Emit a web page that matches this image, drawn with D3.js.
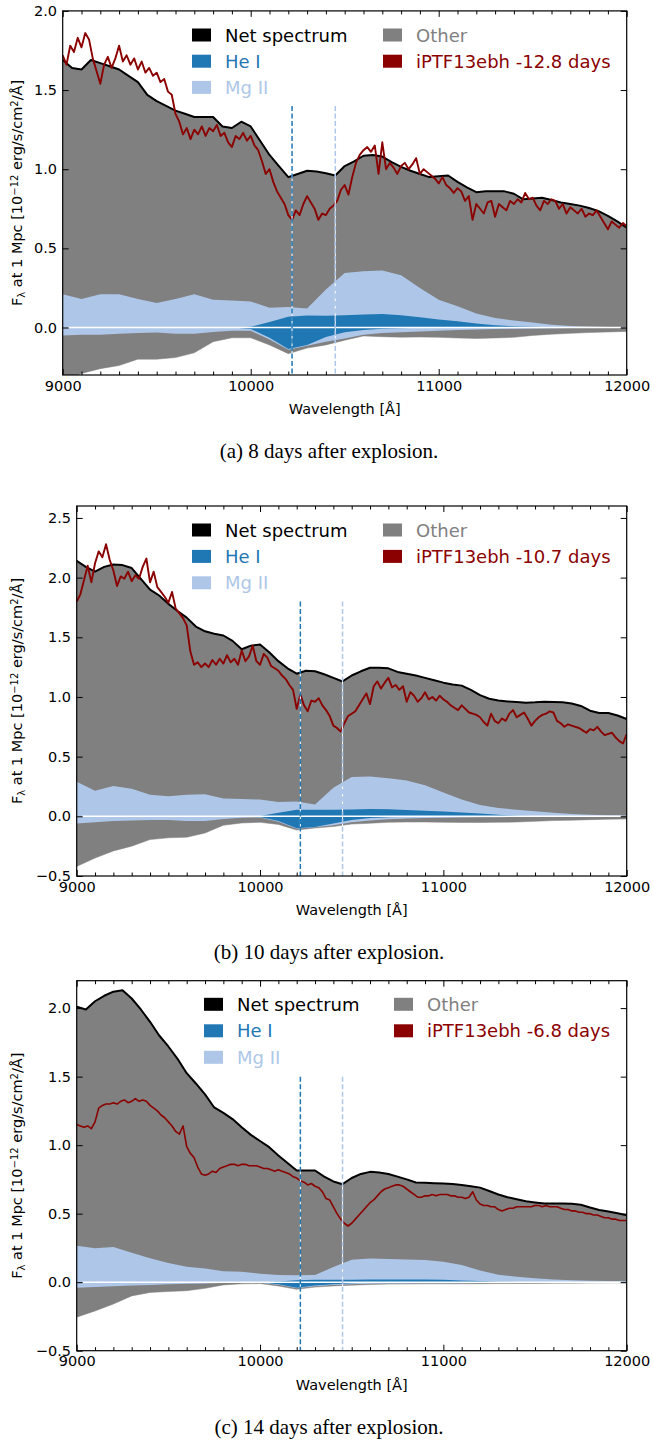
<!DOCTYPE html>
<html><head><meta charset="utf-8">
<script src="https://cdn.jsdelivr.net/npm/d3@7"></script>
<style>body{margin:0;background:#fff;} svg{display:block;}</style>
</head><body><svg id="c" width="652" height="1441"></svg>
<script>
// ---------- DATA ----------
const waveMin = 9000, waveMax = 12000;
const netStep = 50, modelStep = 100, obsStep = 20;
const xMajorTicks = [9000, 10000, 11000, 12000];
const heLine = 10220, mgLine = 10450;
const zeroLineExtent = [9030, 11970];

const legendLabels = ["Net spectrum", "He I", "Mg II", "Other"];
const obsLabels = ["iPTF13ebh -12.8 days", "iPTF13ebh -10.7 days", "iPTF13ebh -6.8 days"];
const captions = ["(a) 8 days after explosion.", "(b) 10 days after explosion.", "(c) 14 days after explosion."];
const yDomains = [[-0.3, 2.0], [-0.5, 2.6], [-0.5, 2.2]];
const yTickValues = [[0, 0.5, 1.0, 1.5, 2.0], [-0.5, 0, 0.5, 1.0, 1.5, 2.0, 2.5], [-0.5, 0, 0.5, 1.0, 1.5, 2.0]];
const lineTops = [1.4, 1.8, 1.5];

// Panel (a)
const p1Net = [1.69,1.64,1.63,1.69,1.67,1.65,1.63,1.59,1.55,1.47,
 1.43,1.40,1.37,1.35,1.33,1.33,1.33,1.27,1.26,1.30,
 1.27,1.18,1.09,1.02,0.95,0.97,0.99,0.985,0.975,0.96,
 1.02,1.05,1.085,1.09,1.08,1.045,1.015,0.99,0.97,0.95,
 0.955,0.96,0.92,0.885,0.855,0.86,0.86,0.86,0.845,0.81,
 0.815,0.82,0.805,0.79,0.78,0.77,0.755,0.735,0.705,0.67,
 0.63];
const p1MgTop = [0.21,0.18,0.21,0.21,0.18,0.155,0.18,0.21,0.175,0.17,
 0.165,0.125,0.13,0.12,0.24,0.345,0.355,0.36,0.33,0.25,
 0.175,0.135,0.088,0.06,0.045,0.032,0.018,0.01,0.006,0.004,0.003];
const p1HeTop = [0,0,0,0,0,0,0,0,0,0,
 0.005,0.035,0.068,0.076,0.075,0.078,0.082,0.085,0.077,0.065,
 0.05,0.04,0.025,0.015,0.008,0.005,0.002,0,0,0,0];
const p1HeBot = [0,0,0,0,0,0,0,0,0,0,
 -0.01,-0.065,-0.135,-0.11,-0.06,-0.03,-0.015,-0.008,-0.004,-0.002,
 0,0,0,0,0,0,0,0,0,0,0];
const p1MgBot = [-0.05,-0.045,-0.045,-0.04,-0.035,-0.032,-0.04,-0.04,-0.028,-0.02,
 -0.02,-0.075,-0.14,-0.115,-0.09,-0.07,-0.045,-0.035,-0.03,-0.025,
 -0.02,-0.015,-0.012,-0.01,-0.008,-0.006,-0.004,-0.003,-0.002,-0.001,0];
const p1OtherBot = [-0.34,-0.29,-0.26,-0.24,-0.2,-0.2,-0.19,-0.16,-0.09,-0.065,
 -0.065,-0.11,-0.165,-0.13,-0.11,-0.08,-0.053,-0.058,-0.061,-0.06,
 -0.062,-0.066,-0.069,-0.066,-0.062,-0.05,-0.042,-0.037,-0.032,-0.028,-0.025];
const p1Obs = [1.72,1.66,1.78,1.74,1.83,1.77,1.86,1.82,1.70,1.62,
 1.54,1.66,1.71,1.64,1.70,1.78,1.68,1.72,1.66,1.70,
 1.63,1.68,1.61,1.64,1.59,1.61,1.55,1.57,1.49,1.47,
 1.35,1.30,1.22,1.26,1.19,1.25,1.22,1.27,1.21,1.26,
 1.24,1.28,1.21,1.23,1.17,1.14,1.21,1.19,1.23,1.18,
 1.21,1.15,1.12,1.05,0.97,1.00,0.92,0.86,0.82,0.78,
 0.71,0.68,0.74,0.71,0.78,0.83,0.79,0.75,0.68,0.72,
 0.71,0.75,0.77,0.80,0.87,0.90,0.84,0.95,1.04,1.09,
 1.12,1.14,1.11,1.15,0.97,1.17,1.00,1.04,1.01,0.97,
 1.02,1.04,1.00,1.03,1.07,0.97,1.00,0.98,0.96,0.94,
 0.91,0.95,0.90,0.88,0.85,0.88,0.86,0.80,0.83,0.68,
 0.78,0.75,0.72,0.79,0.80,0.70,0.78,0.76,0.74,0.80,
 0.78,0.81,0.79,0.85,0.81,0.82,0.77,0.74,0.80,0.78,
 0.81,0.80,0.75,0.78,0.72,0.76,0.74,0.72,0.75,0.70,
 0.72,0.71,0.74,0.70,0.66,0.62,0.67,0.65,0.63,0.66,
 0.64];

// Panel (b)
const p2Net = [2.14,2.09,2.05,2.09,2.11,2.105,2.08,1.99,1.90,1.85,
 1.78,1.72,1.665,1.59,1.55,1.53,1.515,1.47,1.40,1.43,
 1.44,1.375,1.30,1.24,1.195,1.22,1.215,1.19,1.16,1.13,
 1.18,1.215,1.245,1.245,1.24,1.21,1.195,1.18,1.16,1.14,
 1.12,1.105,1.095,1.06,1.015,0.985,0.97,0.963,0.958,0.952,
 0.955,0.96,0.957,0.955,0.945,0.925,0.885,0.865,0.865,0.845,
 0.815];
const p2MgTop = [0.29,0.215,0.255,0.23,0.18,0.168,0.18,0.185,0.15,0.145,
 0.14,0.12,0.125,0.10,0.24,0.33,0.333,0.318,0.30,0.26,
 0.2,0.14,0.095,0.07,0.055,0.042,0.03,0.02,0.014,0.009,0.006];
const p2HeTop = [0,0,0,0,0,0,0,0,0,0,
 0.003,0.03,0.055,0.056,0.056,0.058,0.062,0.06,0.053,0.047,
 0.04,0.032,0.024,0.013,0.005,0.002,0,0,0,0,0];
const p2HeBot = [0,0,0,0,0,0,0,0,0,0,
 -0.005,-0.04,-0.10,-0.09,-0.06,-0.03,-0.015,-0.008,-0.004,-0.002,
 0,0,0,0,0,0,0,0,0,0,0];
const p2MgBot = [-0.06,-0.05,-0.04,-0.035,-0.03,-0.03,-0.04,-0.04,-0.022,-0.012,
 -0.01,-0.045,-0.105,-0.092,-0.075,-0.05,-0.035,-0.025,-0.018,-0.015,
 -0.012,-0.01,-0.008,-0.007,-0.006,-0.005,-0.004,-0.003,-0.002,-0.002,-0.001];
const p2OtherBot = [-0.42,-0.35,-0.29,-0.25,-0.195,-0.18,-0.175,-0.14,-0.075,-0.056,
 -0.05,-0.068,-0.115,-0.098,-0.085,-0.065,-0.058,-0.05,-0.048,-0.048,
 -0.05,-0.052,-0.052,-0.05,-0.048,-0.042,-0.036,-0.032,-0.028,-0.025,-0.022];
const p2Obs = [1.80,1.86,1.98,2.10,1.96,2.12,2.22,2.17,2.28,2.15,
 2.06,1.93,2.01,1.99,2.05,1.97,2.02,1.99,2.09,2.16,
 1.96,2.05,1.92,1.88,1.84,1.79,1.88,1.74,1.70,1.66,
 1.60,1.38,1.27,1.29,1.25,1.28,1.25,1.31,1.27,1.32,
 1.28,1.35,1.29,1.32,1.27,1.39,1.30,1.34,1.43,1.30,
 1.27,1.36,1.33,1.26,1.24,1.22,1.18,1.15,1.10,1.06,
 0.90,1.02,0.93,0.88,0.97,0.96,0.99,0.93,0.89,0.84,
 0.76,0.74,0.71,0.78,0.84,0.86,0.88,0.93,0.98,1.03,
 0.94,1.09,1.13,1.07,1.12,1.16,1.08,1.10,1.06,1.09,
 0.96,1.04,1.01,0.96,0.99,1.04,0.98,1.00,0.97,1.01,
 0.98,0.96,0.93,0.91,0.89,0.93,0.90,0.87,0.86,0.85,
 0.83,0.79,0.76,0.86,0.80,0.78,0.82,0.80,0.86,0.89,
 0.83,0.85,0.87,0.82,0.76,0.80,0.83,0.85,0.86,0.88,
 0.87,0.80,0.78,0.75,0.77,0.76,0.75,0.74,0.72,0.70,
 0.73,0.72,0.75,0.71,0.68,0.69,0.70,0.66,0.63,0.61,
 0.69];

// Panel (c)
const p3Net = [2.01,1.99,2.05,2.09,2.12,2.13,2.07,1.99,1.90,1.80,
 1.72,1.63,1.525,1.45,1.37,1.275,1.235,1.19,1.13,1.075,
 1.03,0.985,0.925,0.87,0.815,0.815,0.815,0.77,0.735,0.715,
 0.76,0.79,0.805,0.80,0.79,0.77,0.75,0.727,0.725,0.722,
 0.72,0.716,0.709,0.70,0.69,0.665,0.64,0.62,0.605,0.59,
 0.582,0.575,0.574,0.574,0.572,0.565,0.545,0.527,0.515,0.503,
 0.489];
const p3MgTop = [0.265,0.247,0.256,0.215,0.175,0.14,0.112,0.1,0.08,0.076,
 0.062,0.053,0.051,0.052,0.11,0.163,0.172,0.17,0.165,0.162,
 0.15,0.125,0.085,0.055,0.04,0.028,0.02,0.015,0.01,0.008,0.006];
const p3HeTop = [0,0,0,0,0,0,0,0,0,0,
 0,0.005,0.015,0.017,0.018,0.018,0.02,0.02,0.02,0.02,
 0.018,0.013,0.008,0.004,0.002,0,0,0,0,0,0];
const p3HeBot = [0,0,0,0,0,0,0,0,0,0,
 0,-0.015,-0.04,-0.025,-0.015,-0.008,-0.004,-0.002,0,0,
 0,0,0,0,0,0,0,0,0,0,0];
const p3MgBot = [-0.04,-0.035,-0.03,-0.025,-0.02,-0.015,-0.012,-0.01,-0.006,-0.004,
 -0.004,-0.018,-0.045,-0.03,-0.02,-0.015,-0.012,-0.01,-0.009,-0.008,
 -0.008,-0.007,-0.006,-0.005,-0.005,-0.004,-0.004,-0.003,-0.003,-0.002,-0.002];
const p3OtherBot = [-0.255,-0.21,-0.16,-0.1,-0.075,-0.068,-0.062,-0.045,-0.02,-0.012,
 -0.01,-0.028,-0.052,-0.036,-0.027,-0.022,-0.017,-0.014,-0.013,-0.012,
 -0.012,-0.012,-0.011,-0.01,-0.01,-0.009,-0.008,-0.007,-0.006,-0.005,-0.004];
const p3Obs = [1.15,1.14,1.13,1.14,1.12,1.17,1.27,1.29,1.30,1.30,
 1.31,1.30,1.32,1.33,1.31,1.32,1.34,1.32,1.33,1.32,
 1.29,1.27,1.25,1.22,1.20,1.17,1.14,1.10,1.08,1.14,
 0.99,0.94,0.91,0.84,0.79,0.78,0.79,0.81,0.80,0.83,
 0.84,0.85,0.86,0.86,0.85,0.86,0.86,0.85,0.85,0.85,
 0.84,0.83,0.83,0.82,0.81,0.82,0.81,0.80,0.79,0.77,
 0.76,0.74,0.73,0.71,0.72,0.70,0.69,0.66,0.61,0.60,
 0.55,0.50,0.46,0.43,0.41,0.43,0.46,0.49,0.52,0.55,
 0.58,0.60,0.63,0.66,0.68,0.69,0.70,0.71,0.71,0.70,
 0.68,0.66,0.64,0.62,0.62,0.63,0.63,0.64,0.63,0.64,
 0.64,0.64,0.63,0.63,0.62,0.62,0.61,0.62,0.66,0.60,
 0.57,0.56,0.56,0.55,0.55,0.53,0.52,0.53,0.54,0.54,
 0.55,0.55,0.55,0.55,0.55,0.56,0.56,0.55,0.56,0.55,
 0.55,0.55,0.54,0.53,0.53,0.52,0.52,0.51,0.51,0.50,
 0.50,0.49,0.49,0.48,0.47,0.47,0.46,0.46,0.45,0.45,
 0.45];

// ---------- STYLE / LAYOUT ----------
const C = {net:"#000000", he:"#1f77b4", mg:"#aec7e8", other:"#808080", obs:"#8b0000"};
const FONT = "DejaVu Sans, Verdana, sans-serif";
const layouts = [
  {box:{l:62.7, r:626.7, t:10.9, b:375}, leg:{y:35, x1:192, x2:383, dy:26.2}, obsW:1.9},
  {box:{l:76.7, r:626.7, t:506, b:876}, leg:{y:530, x1:192, x2:383, dy:26.4}, obsW:1.9},
  {box:{l:76.7, r:626.7, t:980.7, b:1350.7}, leg:{y:1004.3, x1:204, x2:394, dy:26.5}, obsW:1.6}
];
const series = [
  {net:p1Net, mgTop:p1MgTop, heTop:p1HeTop, heBot:p1HeBot, mgBot:p1MgBot, otherBot:p1OtherBot, obs:p1Obs},
  {net:p2Net, mgTop:p2MgTop, heTop:p2HeTop, heBot:p2HeBot, mgBot:p2MgBot, otherBot:p2OtherBot, obs:p2Obs},
  {net:p3Net, mgTop:p3MgTop, heTop:p3HeTop, heBot:p3HeBot, mgBot:p3MgBot, otherBot:p3OtherBot, obs:p3Obs}
];

const svg = d3.select("#c");

series.forEach((s, k) => {
  const {box, leg, obsW} = layouts[k];
  const x = d3.scaleLinear().domain([waveMin, waveMax]).range([box.l, box.r]);
  const y = d3.scaleLinear().domain(yDomains[k]).range([box.b, box.t]);
  const g = svg.append("g");
  const clipId = "clip" + k;
  svg.append("clipPath").attr("id", clipId).append("rect")
    .attr("x", box.l).attr("y", box.t).attr("width", box.r - box.l).attr("height", box.b - box.t);
  const plot = g.append("g").attr("clip-path", `url(#${clipId})`);

  const netPts = s.net.map((v, i) => ({w: waveMin + i * netStep, v}));
  const botPts = s.otherBot.map((v, i) => ({w: waveMin + i * modelStep, v}));
  const comp = s.mgTop.map((v, i) => ({w: waveMin + i * modelStep, mgTop: v, mgBot: s.mgBot[i], heTop: s.heTop[i], heBot: s.heBot[i]}));
  const obsPts = s.obs.map((v, i) => ({w: waveMin + i * obsStep, v}));

  const line = d3.line().x(d => x(d.w)).y(d => y(d.v));
  plot.append("path").attr("d", line(netPts.concat(botPts.slice().reverse())) + "Z")
    .attr("fill", C.other).attr("stroke", C.other).attr("stroke-width", 0.5);
  plot.append("path").attr("d", d3.area().x(d => x(d.w)).y0(d => y(d.mgBot)).y1(d => y(d.mgTop))(comp))
    .attr("fill", C.mg);
  plot.append("path").attr("d", d3.area().x(d => x(d.w)).y0(d => y(d.heBot)).y1(d => y(d.heTop))(comp))
    .attr("fill", C.he);
  plot.append("line").attr("x1", x(zeroLineExtent[0])).attr("x2", x(zeroLineExtent[1]))
    .attr("y1", y(0)).attr("y2", y(0)).attr("stroke", "#ffffff").attr("stroke-width", 1.6);
  plot.append("path").attr("d", line(netPts)).attr("fill", "none")
    .attr("stroke", C.net).attr("stroke-width", 2).attr("stroke-linejoin", "round");
  plot.append("path").attr("d", line(obsPts)).attr("fill", "none")
    .attr("stroke", C.obs).attr("stroke-width", obsW).attr("stroke-linejoin", "round");
  [[heLine, C.he], [mgLine, C.mg]].forEach(([w, col]) => {
    plot.append("line").attr("x1", x(w)).attr("x2", x(w)).attr("y1", y(lineTops[k])).attr("y2", box.b)
      .attr("stroke", "#ffffff").attr("stroke-width", 1);
    plot.append("line").attr("x1", x(w)).attr("x2", x(w)).attr("y1", y(lineTops[k])).attr("y2", box.b)
      .attr("stroke", col).attr("stroke-width", 1.5).attr("stroke-dasharray", "5,2.5");
  });

  const minor = d3.range(waveMin + 100, waveMax, 100).filter(v => !xMajorTicks.includes(v));
  const styleAxis = sel => {
    sel.select(".domain").remove();
    sel.selectAll(".tick line").attr("stroke", "#000").attr("stroke-width", 1);
    sel.selectAll(".tick text").attr("fill", "#000").style("font-family", FONT).style("font-size", "14.5px");
  };
  g.append("g").attr("transform", `translate(0,${box.b})`)
    .call(d3.axisBottom(x).tickValues(xMajorTicks).tickSize(-6).tickPadding(5.5).tickFormat(d3.format("d"))).call(styleAxis);
  g.append("g").attr("transform", `translate(0,${box.b})`)
    .call(d3.axisBottom(x).tickValues(minor).tickSize(-3.5).tickFormat("")).call(styleAxis);
  g.append("g").attr("transform", `translate(0,${box.t})`)
    .call(d3.axisTop(x).tickValues(xMajorTicks).tickSize(-6).tickFormat("")).call(styleAxis);
  g.append("g").attr("transform", `translate(0,${box.t})`)
    .call(d3.axisTop(x).tickValues(minor).tickSize(-3.5).tickFormat("")).call(styleAxis);
  g.append("g").attr("transform", `translate(${box.l},0)`)
    .call(d3.axisLeft(y).tickValues(yTickValues[k]).tickSize(-6).tickPadding(5.7).tickFormat(d3.format(".1f"))).call(styleAxis);
  g.append("g").attr("transform", `translate(${box.r},0)`)
    .call(d3.axisRight(y).tickValues(yTickValues[k]).tickSize(-6).tickFormat("")).call(styleAxis);

  g.append("rect").attr("x", box.l).attr("y", box.t).attr("width", box.r - box.l).attr("height", box.b - box.t)
    .attr("fill", "none").attr("stroke", "#000").attr("stroke-width", 1.2);

  g.append("text").attr("x", (box.l + box.r) / 2).attr("y", box.b + 39).attr("text-anchor", "middle")
    .style("font-family", FONT).style("font-size", "14.5px").text("Wavelength [Å]");
  const yl = g.append("text").attr("transform", `translate(22,${(box.t + box.b) / 2}) rotate(-90)`)
    .attr("text-anchor", "middle").style("font-family", FONT).style("font-size", "14.5px");
  yl.append("tspan").text("F");
  yl.append("tspan").attr("baseline-shift", "-25%").style("font-size", "10px").text("λ");
  yl.append("tspan").text(" at 1 Mpc [10");
  yl.append("tspan").attr("baseline-shift", "40%").style("font-size", "10px").text("−12");
  yl.append("tspan").text(" erg/s/cm");
  yl.append("tspan").attr("baseline-shift", "40%").style("font-size", "10px").text("2");
  yl.append("tspan").text("/Å]");

  const legItems = [
    {label: legendLabels[0], col: C.net, text: "#000", col0: 0, row: 0},
    {label: legendLabels[1], col: C.he, text: C.he, col0: 0, row: 1},
    {label: legendLabels[2], col: C.mg, text: C.mg, col0: 0, row: 2},
    {label: legendLabels[3], col: C.other, text: C.other, col0: 1, row: 0},
    {label: obsLabels[k], col: C.obs, text: C.obs, col0: 1, row: 1}
  ];
  legItems.forEach(it => {
    const lx = it.col0 === 0 ? leg.x1 : leg.x2;
    const ly = leg.y + it.row * leg.dy;
    g.append("rect").attr("x", lx).attr("y", ly - 6.5).attr("width", 19).attr("height", 13).attr("fill", it.col);
    g.append("text").attr("x", lx + 33).attr("y", ly + 6.5).attr("fill", it.text)
      .style("font-family", FONT).style("font-size", "18px").text(it.label);
  });

  svg.append("text").attr("x", 329).attr("y", box.b + 83).attr("text-anchor", "middle")
    .style("font-family", "Liberation Serif, Times New Roman, serif").style("font-size", "21px").text(captions[k]);
});
</script>
</body></html>
